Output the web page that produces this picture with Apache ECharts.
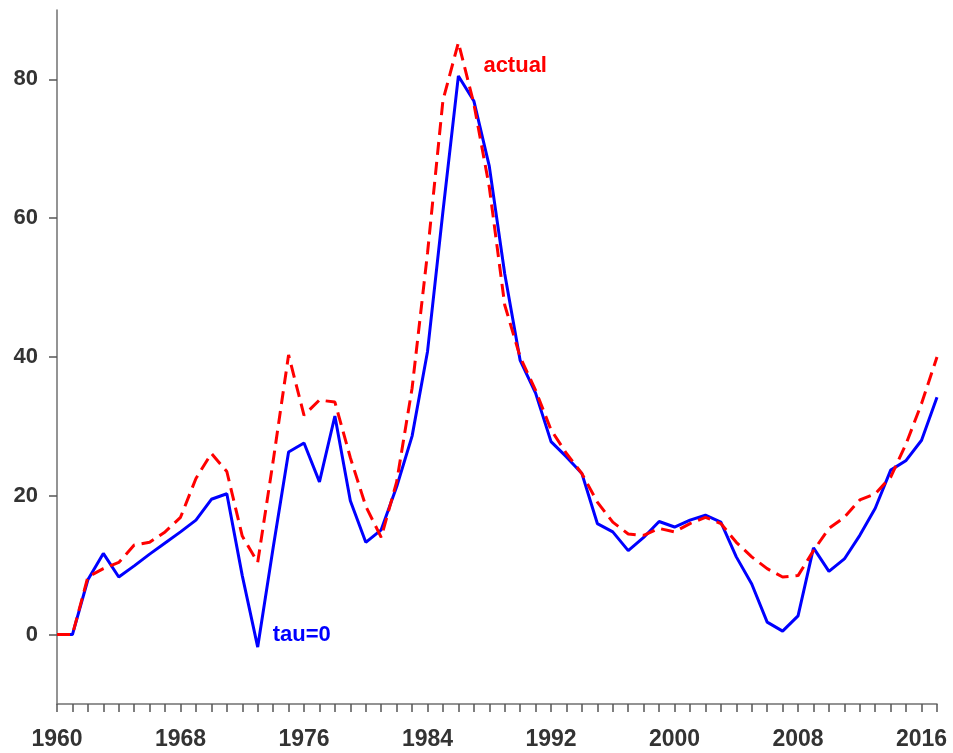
<!DOCTYPE html>
<html>
<head>
<meta charset="utf-8">
<script src="https://cdn.jsdelivr.net/npm/echarts@6/dist/echarts.min.js"></script>
<style>
  html, body { margin: 0; padding: 0; background: #fff; }
  #chart { width: 953px; height: 753px; }
</style>
</head>
<body>
<div id="chart"></div>
<script>
const years = [];
for (let y = 1960; y <= 2017; y++) years.push(y);

const yearLabels = [1960, 1968, 1976, 1984, 1992, 2000, 2008, 2016];
const valueLabels = [0, 20, 40, 60, 80];

// tau=0 (solid blue)
const tau0 = [
  0, 0, 7.9, 11.7, 8.3, 9.9, 11.6, 13.2, 14.8, 16.5,
  19.5, 20.3, 8.5, -1.8, 12.5, 26.3, 27.6, 22.0, 31.5, 19.3,
  13.3, 15.1, 21.3, 28.6, 40.8, 61.0, 80.5, 76.9, 67.5, 52.0,
  39.5, 34.8, 27.8, 25.6, 23.2, 16.0, 14.8, 12.1, 14.0, 16.3,
  15.5, 16.5, 17.2, 16.2, 11.2, 7.3, 1.8, 0.5, 2.7, 12.5,
  9.1, 10.9, 14.3, 18.2, 23.7, 25.1, 28.0, 34.2
];

// actual (dashed red)
const actual = [
  0, 0, 8.3, 9.5, 10.4, 12.9, 13.3, 14.8, 16.9, 22.5,
  26.1, 23.5, 14.2, 10.4, 25.0, 40.3, 31.6, 33.8, 33.5, 25.5,
  18.5, 14.0, 22.0, 35.5, 55.0, 77.0, 85.3, 76.5, 64.5, 47.5,
  40.0, 35.2, 29.5, 26.1, 23.2, 19.1, 16.2, 14.5, 14.3, 15.3,
  14.8, 16.0, 16.9, 16.0, 13.3, 11.2, 9.5, 8.3, 8.5, 12.1,
  15.3, 16.9, 19.4, 20.3, 22.7, 27.5, 33.3, 40.0
];

const pairs = (vals) => years.map((y, i) => [y, vals[i]]);
const peakIdx = actual.indexOf(Math.max(...actual));
const lowIdx = tau0.indexOf(Math.min(...tau0));

const chart = echarts.init(document.getElementById('chart'));
const font = 'Liberation Sans, Arial, sans-serif';

chart.setOption({
  animation: false,
  grid: { left: 57, right: 16, top: 10, bottom: 49 },
  xAxis: {
    type: 'value',
    min: 1960,
    max: 2017,
    interval: 1,
    axisLine: { onZero: false, lineStyle: { color: '#707070', width: 1.5 } },
    axisTick: { length: 8, lineStyle: { color: '#555', width: 1.5 }, customValues: years },
    axisLabel: {
      customValues: yearLabels,
      formatter: (v) => String(v),
      color: '#333', fontSize: 23, fontWeight: 'bold', fontFamily: font, margin: 24
    },
    splitLine: { show: false }
  },
  yAxis: {
    type: 'value',
    min: -10,
    max: 90,
    axisLine: { show: true, lineStyle: { color: '#707070', width: 1.5 } },
    axisTick: { show: true, length: 8, lineStyle: { color: '#555', width: 1.5 }, customValues: valueLabels },
    axisLabel: {
      customValues: valueLabels,
      color: '#333', fontSize: 22, fontWeight: 'bold', fontFamily: font, margin: 19
    },
    splitLine: { show: false }
  },
  series: [
    {
      name: 'tau=0',
      type: 'line',
      data: pairs(tau0),
      symbol: 'none',
      lineStyle: { color: '#0000ff', width: 3 },
      z: 2,
      markPoint: {
        symbol: 'circle',
        symbolSize: 0,
        data: [{ coord: [years[lowIdx], tau0[lowIdx]] }],
        label: {
          show: true, position: 'right', offset: [10, -12], formatter: 'tau=0',
          color: '#0000ff', fontSize: 22, fontWeight: 'bold', fontFamily: font
        }
      }
    },
    {
      name: 'actual',
      type: 'line',
      data: pairs(actual),
      symbol: 'none',
      lineStyle: { color: '#ff0000', width: 3, type: [13, 7] },
      z: 3,
      markPoint: {
        symbol: 'circle',
        symbolSize: 0,
        data: [{ coord: [years[peakIdx], actual[peakIdx]] }],
        label: {
          show: true, position: 'right', offset: [20, 23], formatter: 'actual',
          color: '#ff0000', fontSize: 22, fontWeight: 'bold', fontFamily: font
        }
      }
    }
  ]
});
</script>
</body>
</html>
